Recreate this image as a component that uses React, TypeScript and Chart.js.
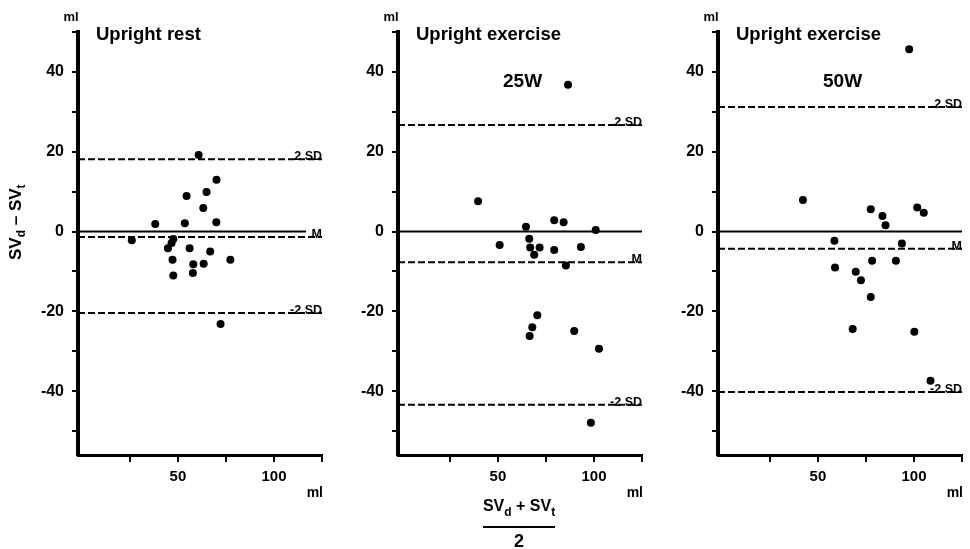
import React, { useEffect, useRef } from 'react';
import { Chart, registerables } from 'chart.js';

Chart.register(...registerables);

// ---- data ----
const restX = [60.8, 70.1, 64.9, 54.5, 63.2, 38.2, 53.6, 70.0, 26.0, 47.6, 46.7, 44.8, 56.1, 66.8, 47.2, 58.0, 63.4, 77.3, 47.6, 57.8, 72.2];
const restY = [19.2, 13.0, 9.9, 8.9, 5.9, 1.9, 2.1, 2.3, -2.2, -1.9, -2.9, -4.2, -4.2, -5.0, -7.1, -8.2, -8.1, -7.1, -11.0, -10.4, -23.2];
const restLimits = [18.1, -1.4, -20.4]; // +2SD, mean, -2SD
const restZeroEnd = 116.7;

const ex25X = [86.5, 39.7, 64.6, 79.3, 84.2, 100.9, 50.9, 66.3, 66.8, 71.7, 68.9, 79.3, 93.2, 85.4, 70.5, 67.9, 66.5, 89.7, 102.6, 98.4];
const ex25Y = [36.8, 7.6, 1.2, 2.8, 2.3, 0.4, -3.4, -1.8, -4.0, -4.0, -5.8, -4.6, -3.9, -8.5, -21.0, -24.0, -26.2, -24.9, -29.4, -47.9];
const ex25Limits = [26.7, -7.7, -43.4];
const ex25ZeroEnd = 125;

const ex50X = [97.5, 42.2, 77.5, 83.6, 85.2, 101.7, 105.1, 58.6, 93.7, 58.9, 69.7, 78.2, 90.6, 72.4, 77.5, 68.1, 100.2, 108.6];
const ex50Y = [45.7, 7.9, 5.6, 3.9, 1.6, 6.0, 4.7, -2.3, -3.0, -9.0, -10.1, -7.3, -7.3, -12.2, -16.4, -24.4, -25.1, -37.4];
const ex50Limits = [31.2, -4.3, -40.2];
const ex50ZeroEnd = 125;

const xTicks = [25, 50, 75, 100, 125];
const xTickLabels = [50, 100];
const yTicks = [-50, -40, -30, -20, -10, 0, 10, 20, 30, 40, 50];
const yTickLabels = [-40, -20, 0, 20, 40];
const limitLabels = ['2 SD', 'M', '-2 SD'];

const X_MIN = -2;
const X_MAX = 125;
const Y_MIN = -56;
const Y_MAX = 50;

const FONT = '"Liberation Sans", Arial, Helvetica, sans-serif';

type PanelProps = {
  left: number;
  xs: number[];
  ys: number[];
  limits: number[];
  zeroEnd: number;
  title: string;
  subtitle?: string;
  yTitle?: boolean;
  xTitle?: boolean;
};

function Panel({ left, xs, ys, limits, zeroEnd, title, subtitle, yTitle, xTitle }: PanelProps) {
  const ref = useRef<HTMLCanvasElement | null>(null);

  useEffect(() => {
    if (!ref.current) return;
    const hline = (y: number, endX: number, dash: number[]) => ({
      type: 'scatter' as const,
      data: [{ x: X_MIN, y }, { x: endX, y }],
      showLine: true,
      borderColor: '#000',
      borderWidth: 2,
      borderDash: dash,
      pointRadius: 0,
      pointHoverRadius: 0,
    });

    const annot = {
      id: 'annot',
      afterDraw(chart: any) {
        const ctx = chart.ctx as CanvasRenderingContext2D;
        const area = chart.chartArea;
        const ys = chart.scales.y;
        ctx.save();
        ctx.fillStyle = '#000';
        // title
        ctx.font = `bold 18.5px ${FONT}`;
        ctx.textAlign = 'left';
        ctx.textBaseline = 'alphabetic';
        ctx.fillText(title, area.left + 18, 40);
        if (subtitle) {
          ctx.font = `bold 19px ${FONT}`;
          ctx.fillText(subtitle, 183, 87);
        }
        // ml labels
        ctx.font = `bold 13px ${FONT}`;
        ctx.textAlign = 'center';
        ctx.fillText('ml', area.left - 7, 21);
        ctx.font = `bold 14px ${FONT}`;
        ctx.textAlign = 'right';
        ctx.fillText('ml', area.right + 1, 497);
        // limit labels
        ctx.font = `bold 12.5px ${FONT}`;
        ctx.textAlign = 'right';
        limits.forEach((v, i) => {
          ctx.fillText(limitLabels[i], area.right, ys.getPixelForValue(v) + 1);
        });
        // y title
        if (yTitle) {
          ctx.save();
          ctx.translate(21, 260);
          ctx.rotate(-Math.PI / 2);
          ctx.textAlign = 'left';
          let x = 0;
          const big = `bold 17px ${FONT}`;
          const small = `bold 12px ${FONT}`;
          const put = (t: string, f: string, dy: number) => {
            ctx.font = f;
            ctx.fillText(t, x, dy);
            x += ctx.measureText(t).width;
          };
          put('SV', big, 0);
          put('d', small, 4);
          put(' \u2013 ', big, 0);
          put('SV', big, 0);
          put('t', small, 4);
          ctx.restore();
        }
        // x title (fraction)
        if (xTitle) {
          const big = `bold 16px ${FONT}`;
          const small = `bold 12px ${FONT}`;
          const parts: [string, string, number][] = [
            ['SV', big, 0],
            ['d', small, 5],
            [' + ', big, 0],
            ['SV', big, 0],
            ['t', small, 5],
          ];
          let total = 0;
          parts.forEach(([t, f]) => {
            ctx.font = f;
            total += ctx.measureText(t).width;
          });
          const cx = 199;
          let x = cx - total / 2;
          ctx.textAlign = 'left';
          parts.forEach(([t, f, dy]) => {
            ctx.font = f;
            ctx.fillText(t, x, 511 + dy);
            x += ctx.measureText(t).width;
          });
          ctx.lineWidth = 2;
          ctx.strokeStyle = '#000';
          ctx.beginPath();
          ctx.moveTo(cx - 36, 527);
          ctx.lineTo(cx + 36, 527);
          ctx.stroke();
          ctx.font = `bold 18px ${FONT}`;
          ctx.textAlign = 'center';
          ctx.fillText('2', cx, 547);
        }
        ctx.restore();
      },
    };

    const chart = new Chart(ref.current, {
      type: 'scatter',
      data: {
        datasets: [
          {
            type: 'scatter',
            data: xs.map((x, i) => ({ x, y: ys[i] })),
            pointRadius: 4,
            pointHoverRadius: 4,
            backgroundColor: '#000',
            borderColor: '#000',
            borderWidth: 0,
          },
          hline(0, zeroEnd, []),
          hline(limits[0], X_MAX, [7, 3]),
          hline(limits[1], X_MAX, [7, 3]),
          hline(limits[2], X_MAX, [7, 3]),
        ],
      },
      options: {
        animation: false,
        responsive: false,
        devicePixelRatio: 1,
        events: [],
        layout: { padding: { left: 0, right: 8, top: 32, bottom: 0 } },
        plugins: {
          legend: { display: false },
          tooltip: { enabled: false },
          title: { display: false },
        },
        scales: {
          x: {
            type: 'linear',
            min: X_MIN,
            max: X_MAX,
            afterBuildTicks: (s: any) => {
              s.ticks = xTicks.map((v) => ({ value: v }));
            },
            afterFit: (s: any) => {
              s.height = 94;
            },
            ticks: {
              callback: (v: any) => (xTickLabels.includes(Number(v)) ? String(v) : ''),
              color: '#000',
              padding: 6,
              maxRotation: 0,
              font: { family: FONT, size: 15, weight: 'bold' },
            },
            grid: {
              display: true,
              drawOnChartArea: false,
              drawTicks: true,
              tickLength: 7,
              color: '#000',
              lineWidth: 2,
            },
            border: { display: true, color: '#000', width: 3 },
          },
          y: {
            type: 'linear',
            min: Y_MIN,
            max: Y_MAX,
            afterBuildTicks: (s: any) => {
              s.ticks = yTicks.map((v) => ({ value: v }));
            },
            afterFit: (s: any) => {
              s.width = 78;
            },
            ticks: {
              callback: (v: any) => (yTickLabels.includes(Number(v)) ? String(v) : ''),
              color: '#000',
              padding: 8,
              font: { family: FONT, size: 16, weight: 'bold' },
            },
            grid: {
              display: true,
              drawOnChartArea: false,
              drawTicks: true,
              tickLength: 6,
              color: '#000',
              lineWidth: 2,
            },
            border: { display: true, color: '#000', width: 4 },
          },
        },
      },
      plugins: [annot],
    } as any);
    return () => chart.destroy();
  }, []);

  return (
    <canvas
      ref={ref}
      width={330}
      height={549}
      style={{ position: 'absolute', left, top: 0, width: 330, height: 549 }}
    />
  );
}

export default function App() {
  return (
    <div style={{ position: 'fixed', left: 0, top: 0, width: 970, height: 549, background: '#fff', overflow: 'hidden' }}>
      <Panel left={0} xs={restX} ys={restY} limits={restLimits} zeroEnd={restZeroEnd} title="Upright rest" yTitle />
      <Panel left={320} xs={ex25X} ys={ex25Y} limits={ex25Limits} zeroEnd={ex25ZeroEnd} title="Upright exercise" subtitle="25W" xTitle />
      <Panel left={640} xs={ex50X} ys={ex50Y} limits={ex50Limits} zeroEnd={ex50ZeroEnd} title="Upright exercise" subtitle="50W" />
    </div>
  );
}
